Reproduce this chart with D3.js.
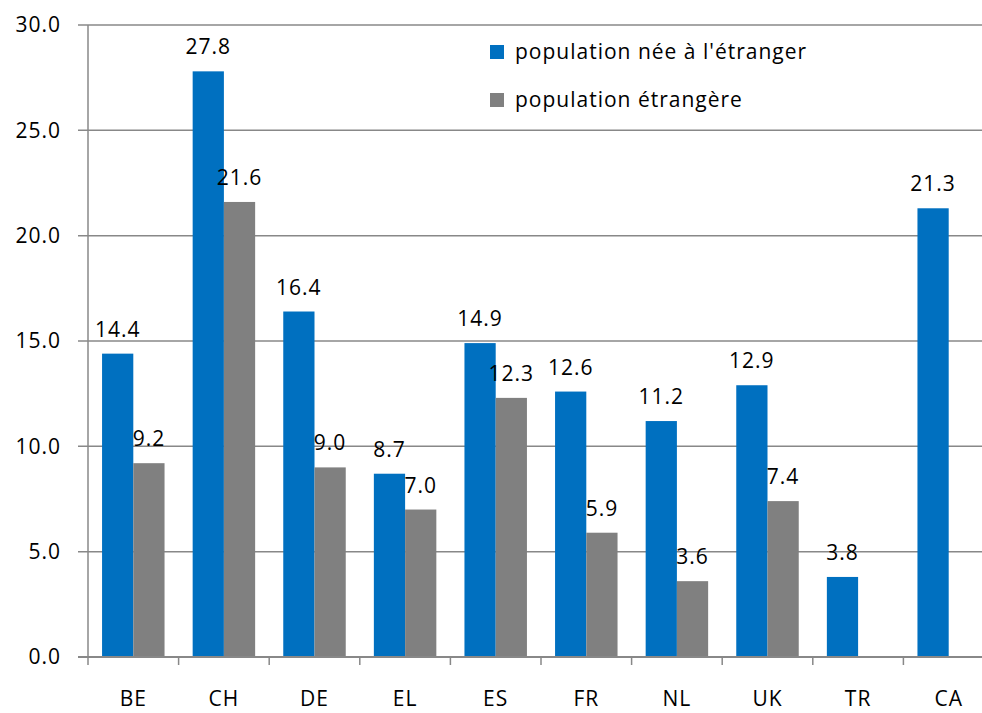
<!doctype html>
<html>
<head>
  <meta charset='utf-8'>
  <style>
    body { margin: 0; background: #fff; }
    text { font-family: 'Open Sans', sans-serif; font-size: 21px; letter-spacing: 1px; fill: #000; }
  </style>
</head>
<body>
  <svg width='982' height='713'></svg>
  <script src='https://d3js.org/d3.v7.min.js'></script>
  <script>
    var categories = ['BE', 'CH', 'DE', 'EL', 'ES', 'FR', 'NL', 'UK', 'TR', 'CA'];
    var seriesNames = ["population née à l'étranger", 'population étrangère'];
    var foreignBorn = [14.4, 27.8, 16.4, 8.7, 14.9, 12.6, 11.2, 12.9, 3.8, 21.3];
    var foreigners = [9.2, 21.6, 9.0, 7.0, 12.3, 5.9, 3.6, 7.4, null, null];
    var yTicks = [0, 5, 10, 15, 20, 25, 30];
    var colors = ['#0070c0', '#808080'];

    var svg = d3.select('svg');
    var plotLeft = 88, plotBottom = 657, plotTop = 25;

    var x = d3.scaleBand()
              .domain(categories)
              .range([plotLeft, plotLeft + 90.6 * categories.length]);

    var xs = d3.scaleBand()
               .domain([0, 1])
               .range([0, x.bandwidth()])
               .paddingOuter(0.45);

    var y = d3.scaleLinear().domain([0, 30]).range([plotBottom, plotTop]);

    // gridlines
    svg.append('g')
       .selectAll('line')
       .data(yTicks.slice(1))
       .enter().append('line')
               .attr('x1', plotLeft - 10)
               .attr('x2', 982)
               .attr('y1', function(d) { return y(d); })
               .attr('y2', function(d) { return y(d); })
               .attr('stroke', '#888')
               .attr('stroke-width', 1.5);

    // y labels
    svg.append('g')
       .selectAll('text')
       .data(yTicks)
       .enter().append('text')
               .attr('x', 61)
               .attr('y', function(d) { return y(d); })
               .attr('dy', '0.35em')
               .attr('text-anchor', 'end')
               .text(function(d) { return d.toFixed(1); });

    var rows = categories.map(function(c, i) {
      return { cat: c, values: [foreignBorn[i], foreigners[i]] };
    });

    var group = svg.append('g')
                   .selectAll('g')
                   .data(rows)
                   .enter().append('g')
                           .attr('transform', function(d) {
                             return 'translate(' + x(d.cat) + ',0)';
                           });

    var bars = group.selectAll('g')
                    .data(function(d) {
                      return d.values.map(function(v, k) { return { k: k, v: v }; })
                                     .filter(function(e) { return e.v !== null; });
                    })
                    .enter().append('g');

    bars.append('rect')
        .attr('x', function(d) { return xs(d.k); })
        .attr('width', xs.bandwidth())
        .attr('y', function(d) { return y(d.v); })
        .attr('height', function(d) { return plotBottom - y(d.v); })
        .attr('fill', function(d) { return colors[d.k]; });

    bars.append('text')
        .attr('x', function(d) { return xs(d.k) + xs.bandwidth() / 2; })
        .attr('y', function(d) { return y(d.v) - 17; })
        .attr('text-anchor', 'middle')
        .text(function(d) { return d.v.toFixed(1); });

    // axis lines
    svg.append('line')
       .attr('x1', plotLeft).attr('x2', plotLeft)
       .attr('y1', plotTop).attr('y2', plotBottom)
       .attr('stroke', '#888').attr('stroke-width', 1.5);

    svg.append('line')
       .attr('x1', plotLeft - 10).attr('x2', 982)
       .attr('y1', plotBottom).attr('y2', plotBottom)
       .attr('stroke', '#888').attr('stroke-width', 2);

    svg.append('g')
       .selectAll('line')
       .data(categories)
       .enter().append('line')
               .attr('x1', function(d) { return x(d); })
               .attr('x2', function(d) { return x(d); })
               .attr('y1', plotBottom).attr('y2', plotBottom + 8)
               .attr('stroke', '#888').attr('stroke-width', 1.5);

    svg.append('g')
       .selectAll('text')
       .data(categories)
       .enter().append('text')
               .attr('x', function(d) { return x(d) + x.bandwidth() / 2; })
               .attr('y', 706)
               .text(function(d) { return d; })
               .attr('text-anchor', 'middle');

    // legend
    var legend = svg.append('g')
                    .selectAll('g')
                    .data(seriesNames)
                    .enter().append('g')
                            .attr('transform', function(d, i) {
                              return 'translate(490,' + (52 + i * 48) + ')';
                            });

    legend.append('rect')
          .attr('x', 0).attr('y', -7)
          .attr('width', 14).attr('height', 14)
          .attr('fill', function(d, i) { return colors[i]; });

    legend.append('text')
          .attr('x', 25)
          .attr('dy', '0.35em')
          .text(function(d) { return d; });
  </script>
</body>
</html>
